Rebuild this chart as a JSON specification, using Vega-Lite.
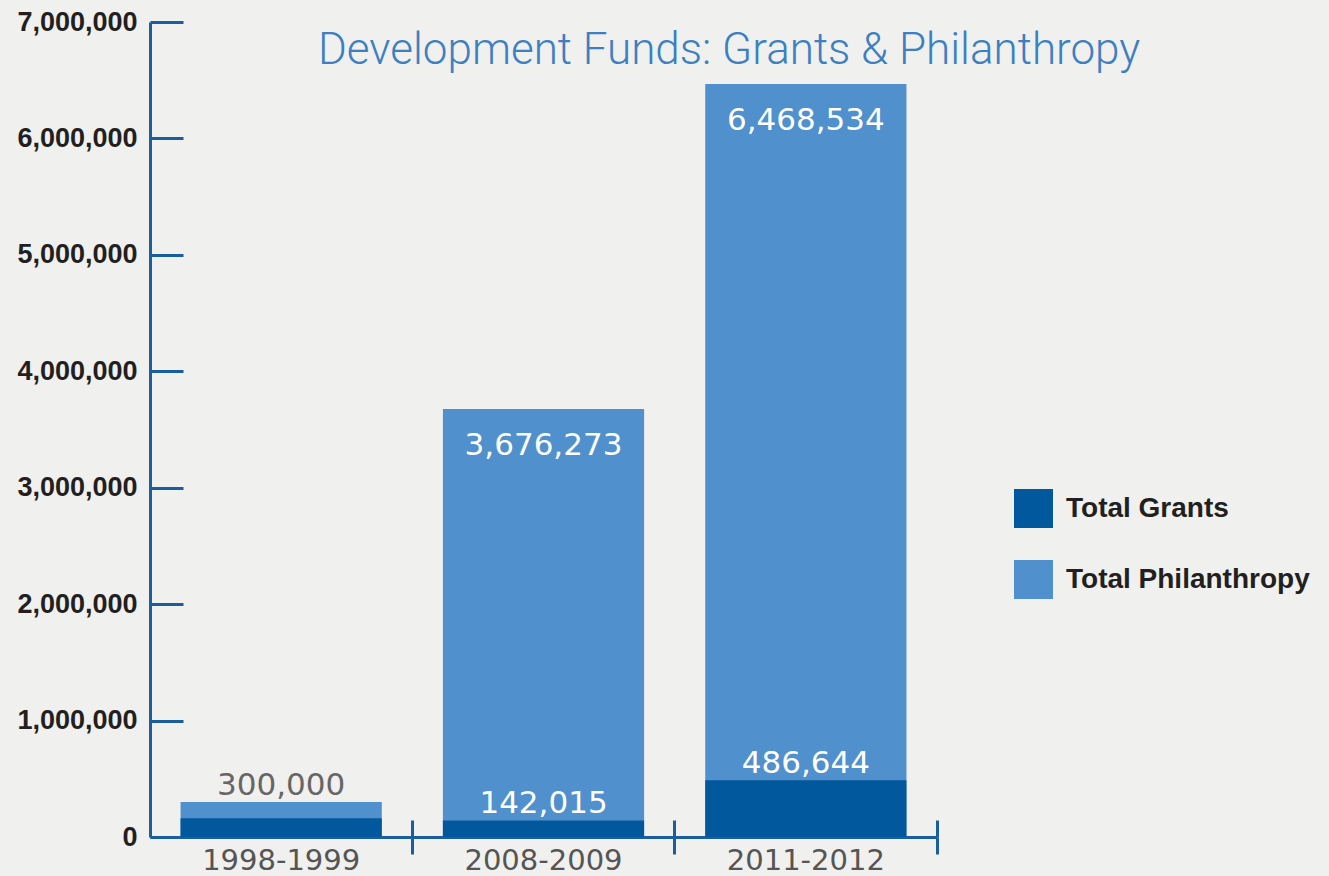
{
  "$schema": "https://vega.github.io/schema/vega-lite/v6.json",
  "width": 787,
  "height": 815,
  "autosize": {"type": "none"},
  "padding": {"left": 150, "top": 22, "right": 392, "bottom": 39},
  "background": "#f0f0ef",
  "title": {
    "text": "Development Funds: Grants & Philanthropy",
    "orient": "top",
    "anchor": "start",
    "frame": "group",
    "offset": -100,
    "baseline": "alphabetic",
    "dx": 168,
    "font": "Roboto",
    "fontWeight": 300,
    "fontSize": 44,
    "color": "#3d7fc0"
  },
  "config": {
    "view": {"stroke": null},
    "axis": {"grid": false, "domainColor": "#1b5e9e", "tickColor": "#1b5e9e", "domainWidth": 3, "tickWidth": 3, "title": null}
  },
  "data": {
    "values": [
      {"Year": "1998-1999", "Series": "Total Philanthropy", "Amount": 300000},
      {"Year": "2008-2009", "Series": "Total Philanthropy", "Amount": 3676273},
      {"Year": "2011-2012", "Series": "Total Philanthropy", "Amount": 6468534},
      {"Year": "1998-1999", "Series": "Total Grants", "Amount": 160000},
      {"Year": "2008-2009", "Series": "Total Grants", "Amount": 142015},
      {"Year": "2011-2012", "Series": "Total Grants", "Amount": 486644}
    ]
  },
  "encoding": {
    "y": {
      "field": "Amount",
      "type": "quantitative",
      "stack": null,
      "scale": {"domain": [0, 7000000], "nice": false},
      "axis": {
        "values": [0, 1000000, 2000000, 3000000, 4000000, 5000000, 6000000, 7000000],
        "format": ",d",
        "tickSize": -33,
        "labelPadding": 46,
        "labelFont": "Liberation Sans",
        "labelFontWeight": "bold",
        "labelFontSize": 27,
        "labelColor": "#231f20"
      }
    }
  },
  "resolve": {"axis": {"x": "independent"}},
  "layer": [
    {
      "mark": {"type": "bar", "width": {"band": 0.767}},
      "encoding": {
        "x": {
          "field": "Year",
          "type": "nominal",
          "sort": null,
          "scale": {"paddingInner": 0, "paddingOuter": 0},
          "axis": {
            "orient": "bottom",
            "labelAngle": 0,
            "bandPosition": 1,
            "tickSize": 17,
            "labelPadding": -8,
            "labelFont": "DejaVu Sans",
            "labelFontSize": 29,
            "labelColor": "#555555"
          }
        },
        "color": {
          "field": "Series",
          "type": "nominal",
          "scale": {"domain": ["Total Grants", "Total Philanthropy"], "range": ["#02589c", "#5090cc"]},
          "legend": {
            "title": null,
            "orient": "none",
            "legendX": 864,
            "legendY": 467,
            "symbolType": "square",
            "symbolSize": 1521,
            "symbolStrokeWidth": 0,
            "rowPadding": 32,
            "labelOffset": 13,
            "labelFont": "Liberation Sans",
            "labelFontWeight": "bold",
            "labelFontSize": 28,
            "labelColor": "#231f20",
            "labelLimit": 400
          }
        }
      }
    },
    {
      "transform": [{"filter": "datum.Series == 'Total Philanthropy' && datum.Amount >= 1000000"}],
      "mark": {"type": "text", "baseline": "top", "dy": 22, "font": "DejaVu Sans", "fontSize": 31, "color": "white"},
      "encoding": {
        "x": {
          "field": "Year",
          "type": "nominal",
          "sort": null,
          "axis": {
            "orient": "top",
            "offset": -815,
            "domain": false,
            "labels": false,
            "bandPosition": 1,
            "tickSize": 17
          }
        },
        "text": {"field": "Amount", "type": "quantitative", "format": ","}
      }
    },
    {
      "transform": [{"filter": "datum.Series == 'Total Philanthropy' && datum.Amount < 1000000"}],
      "mark": {"type": "text", "baseline": "alphabetic", "dy": -7, "font": "DejaVu Sans", "fontSize": 31, "color": "#666666"},
      "encoding": {
        "x": {"field": "Year", "type": "nominal", "sort": null, "axis": null},
        "text": {"field": "Amount", "type": "quantitative", "format": ","}
      }
    },
    {
      "transform": [{"filter": "datum.Series == 'Total Grants' && datum.Year != '1998-1999'"}],
      "mark": {"type": "text", "baseline": "alphabetic", "dy": -7, "font": "DejaVu Sans", "fontSize": 31, "color": "white"},
      "encoding": {
        "x": {"field": "Year", "type": "nominal", "sort": null, "axis": null},
        "text": {"field": "Amount", "type": "quantitative", "format": ","}
      }
    }
  ]
}
